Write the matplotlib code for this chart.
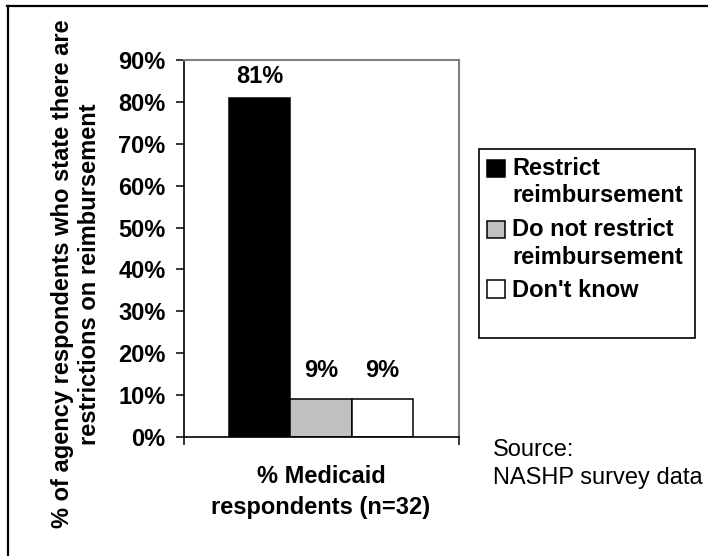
import matplotlib.pyplot as plt
from matplotlib.patches import Rectangle
from matplotlib.lines import Line2D

plt.rcParams['font.family'] = ['Liberation Sans', 'DejaVu Sans']

categories = ["Restrict\nreimbursement", "Do not restrict\nreimbursement", "Don't know"]
values = [81, 9, 9]
value_labels = ["81%", "9%", "9%"]
colors = ["#000000", "#c0c0c0", "#ffffff"]
yticks = [0, 10, 20, 30, 40, 50, 60, 70, 80, 90]
xlabel = "% Medicaid\nrespondents (n=32)"
ylabel = "% of agency respondents who state there are\nrestrictions on reimbursement"
source = "Source:\nNASHP survey data"

FS = 17
W, H = 708, 556

fig = plt.figure(figsize=(W / 100, H / 100), dpi=100)
ax = fig.add_axes([184 / W, 1 - 437 / H, 275 / W, 377 / H])

x = [0, 1, 2]
bars = ax.bar(x, values, width=1.0, color=colors, edgecolor="black", linewidth=1.1)

# Excel puts the small labels a bit higher
label_offsets = [7, 12.5, 12.5]
for xi, v, lab, off in zip(x, values, value_labels, label_offsets):
    ax.annotate(lab, (xi, v), xytext=(0, off), textcoords="offset points",
                ha="center", va="bottom", fontsize=FS, fontweight="bold")

ax.set_xlim(-1.23, 3.25)
ax.set_ylim(0, 90)
ax.set_yticks(yticks)
ax.set_yticklabels([f"{t}%" for t in yticks], fontsize=FS, fontweight="bold")
ax.set_xticks([-1.23, 3.25])
ax.set_xticklabels(["", ""])
ax.tick_params(axis="y", length=5.8, width=1.1, pad=7.5)
ax.tick_params(axis="x", length=5.8, width=1.1, direction="out")

ax.spines["left"].set_linewidth(1.2)
ax.spines["bottom"].set_linewidth(1.2)
for s in ["top", "right"]:
    ax.spines[s].set_color("#808080")
    ax.spines[s].set_linewidth(1.5)

fig.text(321 / W, 1 - 492 / H, xlabel, ha="center", va="center",
         fontsize=FS, fontweight="bold", linespacing=1.4)
fig.text(76 / W, 1 - 274 / H, ylabel, ha="center", va="center",
         rotation=90, fontsize=FS, fontweight="bold", linespacing=1.2)

leg = ax.legend(bars, categories, loc="upper left",
                bbox_to_anchor=(487 / W, 1 - 157 / H),
                bbox_transform=fig.transFigure,
                prop={"size": FS, "weight": "bold"},
                frameon=False, handlelength=0.76, handleheight=0.76,
                handletextpad=0.3, borderpad=0, labelspacing=0.45,
                borderaxespad=0)
line_h = FS * 1.25
for txt, patch in zip(leg.get_texts(), leg.get_patches()):
    txt.set_linespacing(1.25)
    n = txt.get_text().count("\n")
    # keep the swatch beside the first line, as Excel does
    patch.set_y(patch.get_y() + n * line_h / 2)

fig.patches.append(Rectangle((479 / W, 1 - 338 / H), 216 / W, 189 / H,
                             transform=fig.transFigure, fill=False,
                             edgecolor="black", linewidth=1.2))

fig.text(493 / W, 1 - 464 / H, source, ha="left", va="center",
         fontsize=FS, linespacing=1.3)

# outer frame (only top and left edges show)
fig.add_artist(Line2D([7 / W, 1], [1 - 6 / H, 1 - 6 / H], color="black",
                      linewidth=1.6, transform=fig.transFigure))
fig.add_artist(Line2D([8 / W, 8 / W], [0, 1 - 6 / H], color="black",
                      linewidth=1.6, transform=fig.transFigure))

fig.savefig("out.png", dpi=100)
